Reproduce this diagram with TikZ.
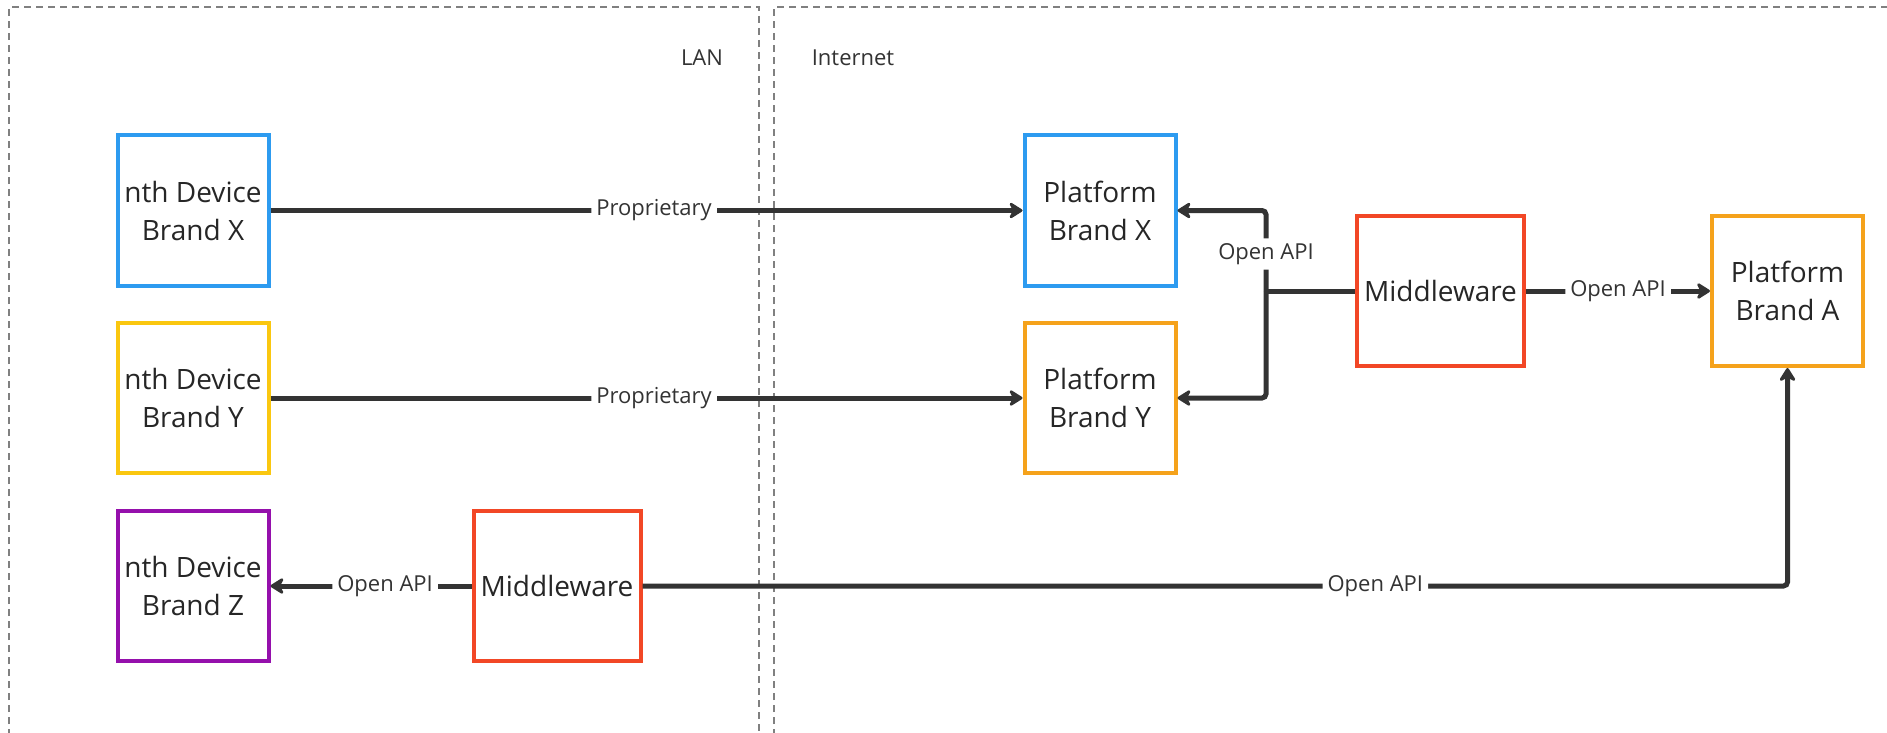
\documentclass[tikz,border=0pt]{standalone}
\usepackage{fontspec}
\setmainfont{Open Sans}
\usetikzlibrary{arrows.meta}
\definecolor{boxblue}{HTML}{2D9BF0}
\definecolor{boxyellow}{HTML}{FAC710}
\definecolor{boxorange}{HTML}{F5A21B}
\definecolor{boxred}{HTML}{F24726}
\definecolor{boxpurple}{HTML}{9510AC}
\definecolor{linkgrey}{HTML}{333333}
\tikzset{unit/.style={draw,
			line width=4pt,
			minimum width=151pt,
			minimum height=150pt,
			inner sep=0pt,
			align=center,
			text=black!85,
			font=\fontsize{28}{38}\selectfont},
	middle/.style={unit, minimum width=167pt, draw=boxred},
	link/.style={draw=linkgrey, line width=5pt, rounded corners=4pt,
			-{Stealth[length=16pt,width=20pt,round]}},
	wire/.style={draw=linkgrey, line width=5pt},
	tag/.style={fill=white, inner sep=5pt, text=linkgrey,
			font=\fontsize{22}{26}\selectfont},
	zone/.style={draw=gray, line width=1.5pt, dash pattern=on 7pt off 5pt}}

\begin{document}
\begin{tikzpicture}[x=1pt, y=-1pt]
		\useasboundingbox (0,0) rectangle (1887,733);
		
		% LAN and Internet zones
		\draw[zone] (9,760) |- (759,7) -- (759,760);
		\draw[zone] (774,760) |- (1900,7);
		\node[tag] (lan) at (702,58) {LAN};
		\node[tag] (inet) at (853,58) {Internet};
		
		\node[unit, draw=boxblue] (devx) at (193,210.5) {nth Device\\Brand X};
		\node[unit, draw=boxyellow] (devy) at (193,398) {nth Device\\Brand Y};
		\node[unit, draw=boxpurple] (devz) at (193,586) {nth Device\\Brand Z};
		\node[middle] (mwz) at (557,586) {Middleware};
		
		\node[unit, draw=boxblue] (platx) at (1100,210.5) {Platform\\Brand X};
		\node[unit, draw=boxorange] (platy) at (1100,398) {Platform\\Brand Y};
		\node[middle] (mw) at (1440.5,291) {Middleware};
		\node[unit, draw=boxorange] (plata) at (1787.5,291) {Platform\\Brand A};
		
		\coordinate (hub) at (1266,291);
		
		\draw[link] (devx) -- node[tag, pos=0.51] {Proprietary} (platx);
		\draw[link] (devy) -- node[tag, pos=0.51] {Proprietary} (platy);
		
		\draw[wire] (mw) -- (hub);
		\draw[link] (hub) |- node[tag, pos=0.23] {Open API} (platx);
		\draw[link] (hub) |- (platy);
		\draw[link] (mw) -- node[tag] {Open API} (plata);
		
		\draw[link] (mwz) -- node[tag, pos=0.43] {Open API} (devz);
		\draw[link] (mwz) -| node[tag, pos=0.32] {Open API} (plata);
\end{tikzpicture}
\end{document}
